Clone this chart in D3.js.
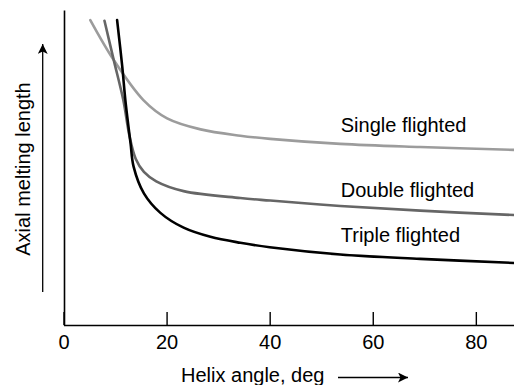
<!DOCTYPE html>
<html>
<head>
<meta charset="utf-8">
<script src="https://cdn.jsdelivr.net/npm/d3@7/dist/d3.min.js"></script>
<style>
  html, body { margin: 0; padding: 0; background: #fff; }
  svg { display: block; font-family: "Liberation Sans", Arial, Helvetica, sans-serif; }
</style>
</head>
<body>
<svg id="chart" width="514" height="385"></svg>
<script>
// Helix angle (deg) vs. relative axial melting length for each screw type
const singleAngle  = [5.2, 9.75, 15.5, 20.1, 26.6, 34.3, 40.1, 53.7, 69.2, 87.4];
const singleLength = [96.8, 84.1, 71.4, 65.6, 62.1, 60.1, 59.1, 57.5, 56.5, 55.6];

const doubleAngle  = [7.95, 9.75, 11.6, 12.8, 14.0, 15.6, 18.0, 23.3, 34.3, 40.1, 53.7, 69.2, 87.4];
const doubleLength = [96.6, 84.1, 71.4, 60.0, 52.8, 48.6, 45.6, 42.5, 40.3, 39.5, 37.8, 36.3, 34.9];

const tripleAngle  = [10.4, 11.4, 12.0, 13.0, 13.6, 15.6, 18.8, 23.3, 28.5, 34.3, 40.0, 53.7, 69.2, 87.4];
const tripleLength = [96.8, 82.0, 71.4, 57.8, 50.3, 41.8, 35.6, 30.9, 28.0, 26.1, 24.7, 22.4, 21.0, 19.7];

const seriesNames = ["Single flighted", "Double flighted", "Triple flighted"];
const xTicks = [0, 20, 40, 60, 80];
const xTitle = "Helix angle, deg";
const yTitle = "Axial melting length";

const svg = d3.select("#chart");
const font = "20px";

const x = d3.scaleLinear().domain([0, 87.5]).range([63.5, 514.5]);
const y = d3.scaleLinear().domain([0, 100]).range([325, 10]);

const series = [
  { name: seriesNames[0], xs: singleAngle, ys: singleLength, color: "#9c9c9c", dy: -12 },
  { name: seriesNames[1], xs: doubleAngle, ys: doubleLength, color: "#666666", dy: -9 },
  { name: seriesNames[2], xs: tripleAngle, ys: tripleLength, color: "#000000", dy: -12 }
];

// x axis: ticks point into the plot
const gx = svg.append("g")
  .attr("transform", `translate(0,${y(0)})`)
  .call(d3.axisBottom(x).tickValues(xTicks).tickSizeInner(-13).tickSizeOuter(0).tickPadding(10));
gx.select(".domain").attr("stroke", "#000").attr("stroke-width", 1.6);
gx.selectAll(".tick line").attr("stroke", "#000").attr("stroke-width", 1.4);
gx.selectAll(".tick text").attr("font-size", font).attr("fill", "#000")
  .attr("font-family", "'Liberation Sans', Arial, sans-serif");

// y axis: plain line, no ticks
const gy = svg.append("g")
  .attr("transform", `translate(${x(0) + 0.5},0)`)
  .call(d3.axisLeft(y).tickValues([]).tickSizeOuter(0));
gy.select(".domain").attr("stroke", "#000").attr("stroke-width", 1.6);

// curves
const line = d3.line()
  .x(d => x(d[0]))
  .y(d => y(d[1]))
  .curve(d3.curveCatmullRom.alpha(0.5));

series.forEach(s => {
  const pts = s.xs.map((v, i) => [v, s.ys[i]]);
  svg.append("path")
    .datum(pts)
    .attr("d", line)
    .attr("fill", "none")
    .attr("stroke", s.color)
    .attr("stroke-width", 2.6)
    .attr("stroke-linecap", "round");
});

// series labels sit just above their curves
const labelAngle = 53.7;
series.forEach(s => {
  const idx = s.xs.indexOf(labelAngle);
  svg.append("text")
    .attr("x", x(labelAngle) + 0.5)
    .attr("y", y(s.ys[idx]) + s.dy)
    .attr("font-size", font)
    .attr("fill", "#000")
    .text(s.name);
});

// arrow marker
svg.append("defs").append("marker")
  .attr("id", "arrow")
  .attr("viewBox", "0 0 10 10")
  .attr("refX", 10).attr("refY", 5)
  .attr("markerWidth", 14).attr("markerHeight", 10)
  .attr("markerUnits", "userSpaceOnUse")
  .attr("orient", "auto")
  .append("path")
  .attr("d", "M0,0 L10,5 L0,10 L2.5,5 Z")
  .attr("fill", "#000");

// x title with arrow
svg.append("text")
  .attr("x", 181)
  .attr("y", 382)
  .attr("font-size", font)
  .attr("fill", "#000")
  .text(xTitle);
svg.append("line")
  .attr("x1", 338).attr("y1", 377.5)
  .attr("x2", 408).attr("y2", 377.5)
  .attr("stroke", "#000").attr("stroke-width", 1.3)
  .attr("marker-end", "url(#arrow)");

// y title with arrow
svg.append("text")
  .attr("transform", "translate(29.5,169) rotate(-90)")
  .attr("text-anchor", "middle")
  .attr("font-size", font)
  .attr("fill", "#000")
  .text(yTitle);
svg.append("line")
  .attr("x1", 42.7).attr("y1", 292)
  .attr("x2", 42.7).attr("y2", 44)
  .attr("stroke", "#000").attr("stroke-width", 1.3)
  .attr("marker-end", "url(#arrow)");
</script>
</body>
</html>
